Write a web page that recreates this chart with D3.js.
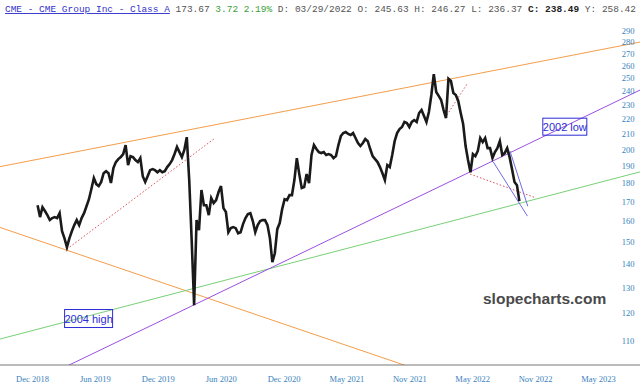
<!doctype html>
<html>

<head>
	<meta charset="utf-8">
	<title>CME - CME Group Inc - Class A</title>
	<script src="https://d3js.org/d3.v7.min.js"></script>
	<style>
		body { margin: 0; background: #fff; }
		svg { display: block; }
	</style>
</head>

<body>
	<div id="chart"></div>
	<script>
		// weekly closes, first week is 2018-12-28
		const firstWeek = '2018-12-28';
		const closes = [
			168.0, 161.9, 167.0, 165.0, 162.9, 160.4, 161.4, 161.9, 161.4, 163.9,
			154.9, 151.5, 147.4, 151.5, 154.9, 157.9, 160.4, 157.9, 161.4, 163.9,
			167.5, 171.2, 176.8, 182.9, 179.5, 178.4, 180.7, 185.7, 186.9, 185.7,
			180.1, 188.7, 192.3, 194.1, 195.3, 197.2, 202.8, 190.5, 195.9, 195.3,
			193.5, 192.3, 194.7, 184.0, 180.7, 184.0, 187.5, 188.1, 187.5, 186.3,
			187.5, 186.3, 186.9, 189.3, 191.1, 193.5, 197.2, 201.6, 198.4, 195.3,
			199.7, 207.9, 181.8, 150.7, 122.9, 160.4, 155.4, 176.2, 168.0, 168.0,
			162.9, 171.8, 169.1, 170.7, 175.1, 178.4, 166.5, 164.5, 154.4, 156.4,
			156.9, 156.4, 153.9, 154.4, 158.4, 161.4, 163.4, 163.9, 159.9, 154.4,
			157.9, 159.9, 160.4, 160.4, 157.9, 151.5, 140.6, 144.6, 155.9, 158.9,
			166.0, 171.2, 170.7, 173.4, 173.4, 181.8, 194.7, 185.2, 177.3, 177.8,
			185.2, 180.1, 196.6, 202.8, 200.3, 198.4, 197.8, 198.4, 196.6, 197.2,
			196.6, 194.7, 195.9, 202.8, 208.6, 210.6, 211.3, 210.0, 209.3, 210.6,
			207.3, 204.1, 202.2, 204.1, 206.7, 205.3, 200.3, 195.9, 194.1, 192.3,
			189.3, 185.7, 181.8, 190.5, 189.3, 196.6, 205.3, 210.6, 213.2, 214.6,
			218.0, 217.3, 214.6, 218.0, 219.3, 218.0, 224.2, 226.3, 222.1, 218.0,
			224.9, 237.2, 253.2, 239.4, 236.5, 233.5, 226.3, 220.7, 249.5, 247.8,
			238.6, 237.2, 232.8, 224.2, 216.6, 202.2, 193.5, 186.3, 197.2, 195.9,
			199.1, 207.3, 204.7, 207.3, 200.9, 200.9, 194.7, 198.4, 200.9, 205.3,
			196.6, 197.8, 200.9, 195.3, 188.1, 180.7, 178.9, 170.2
		];

		const xTickDates = ['2018-12-12', '2019-06-10', '2019-12-07', '2020-06-04', '2020-12-01',
			'2021-05-30', '2021-11-26', '2022-05-25', '2022-11-21', '2023-05-20'];
		const yTicks = [110, 120, 130, 140, 150, 160, 170, 180, 190, 200, 210, 220, 230, 240, 250, 260, 270, 280, 290];

		// trend lines, two anchors [date, price], drawn across the whole chart
		const orangeTop = [['2018-12-12', 193.3], ['2023-05-20', 272.8]];
		const orangeBottom = [['2018-12-12', 151.5], ['2021-05-30', 108.4]];
		const greenLine = [['2018-12-12', 113.5], ['2023-05-20', 180.2]];
		const purpleLine = [['2019-12-07', 116.5], ['2023-05-20', 226.1]];

		// short segments [date, price] -> [date, price]
		const redDotted = [
			[['2019-03-22', 146.5], ['2020-05-19', 207.3]],
			[['2022-03-08', 220.7], ['2022-05-10', 245.4]],
			[['2022-05-19', 185.2], ['2022-11-18', 172.3]]
		];
		const blueLines = [
			[['2022-07-24', 192.5], ['2022-10-30', 162.4]],
			[['2022-09-10', 199.1], ['2022-10-31', 167.5]]
		];

		const notes = [
			{ text: '2002 low', date: '2023-02-14', price: 214.8, w: 44, h: 17 },
			{ text: '2004 high', date: '2019-05-23', price: 117.9, w: 48, h: 18 }
		];

		const width = 640;
		const height = 392;
		const axisY = 365;
		const parse = d3.timeParse('%Y-%m-%d');

		const x = d3.scaleTime()
			.domain([parse('2018-12-12'), parse('2023-05-20')])
			.range([32, 598]);

		const y = d3.scaleLog()
			.domain([110, 290])
			.range([340.7, 30.7]);

		const start = parse(firstWeek);
		const prices = closes.map((c, i) => ({ date: d3.timeDay.offset(start, i * 7), value: c }));

		const svg = d3.select('#chart').append('svg')
			.attr('width', width)
			.attr('height', height);

		svg.append('defs').append('clipPath')
			.attr('id', 'plot')
			.append('rect')
			.attr('x', 0).attr('y', 20)
			.attr('width', width).attr('height', axisY - 20);

		const plot = svg.append('g').attr('clip-path', 'url(#plot)');

		// long lines: extend the anchors to both edges
		function extended(anchors, color) {
			const x1 = x(parse(anchors[0][0])), y1 = y(anchors[0][1]);
			const x2 = x(parse(anchors[1][0])), y2 = y(anchors[1][1]);
			const k = (y2 - y1) / (x2 - x1);
			plot.append('line')
				.attr('x1', 0).attr('y1', y1 - k * x1)
				.attr('x2', width).attr('y2', y1 + k * (width - x1))
				.attr('stroke', color)
				.attr('stroke-width', 1);
		}
		extended(orangeTop, '#f49d4a');
		extended(orangeBottom, '#f49d4a');
		extended(greenLine, '#78d078');
		extended(purpleLine, '#9c4fe0');

		function segment(s, color, dash) {
			plot.append('line')
				.attr('x1', x(parse(s[0][0]))).attr('y1', y(s[0][1]))
				.attr('x2', x(parse(s[1][0]))).attr('y2', y(s[1][1]))
				.attr('stroke', color)
				.attr('stroke-width', 1)
				.attr('stroke-dasharray', dash);
		}
		redDotted.forEach(s => segment(s, '#e0505a', '1.5,2'));
		blueLines.forEach(s => segment(s, '#6c6ce6', null));

		// price line
		const line = d3.line()
			.x(d => x(d.date))
			.y(d => y(d.value));

		plot.append('path')
			.datum(prices)
			.attr('fill', 'none')
			.attr('stroke', '#1a1a1a')
			.attr('stroke-width', 2.6)
			.attr('stroke-linejoin', 'miter')
			.attr('d', line);

		// annotations
		notes.forEach(n => {
			const cx = x(parse(n.date)), cy = y(n.price);
			svg.append('rect')
				.attr('x', cx - n.w / 2).attr('y', cy - n.h / 2)
				.attr('width', n.w).attr('height', n.h)
				.attr('fill', 'none')
				.attr('stroke', '#2b2bd6');
			svg.append('text')
				.attr('x', cx).attr('y', cy + 4)
				.attr('text-anchor', 'middle')
				.attr('font-family', 'Liberation Sans, Arial, sans-serif')
				.attr('font-size', '11px')
				.attr('fill', '#2b2bd6')
				.text(n.text);
		});

		// watermark
		svg.append('text')
			.attr('x', 483).attr('y', 304)
			.attr('font-family', 'Liberation Sans, Arial, sans-serif')
			.attr('font-weight', 'bold')
			.attr('font-size', '15.5px')
			.attr('fill', '#4a4a4a')
			.text('slopecharts.com');

		// axes
		svg.append('line')
			.attr('x1', 0).attr('x2', width)
			.attr('y1', axisY).attr('y2', axisY)
			.attr('stroke', '#777');

		const xAxis = svg.append('g')
			.attr('transform', 'translate(0,' + axisY + ')')
			.call(d3.axisBottom(x)
				.tickValues(xTickDates.map(parse))
				.tickFormat(d3.timeFormat('%b %Y'))
				.tickSize(0)
				.tickPadding(11));
		xAxis.select('.domain').remove();
		xAxis.selectAll('text')
			.attr('font-family', 'Liberation Serif, Times New Roman, serif')
			.attr('font-size', '8.5px')
			.attr('fill', '#3a82bd');

		const yAxis = svg.append('g')
			.attr('transform', 'translate(628,0)')
			.call(d3.axisRight(y)
				.tickValues(yTicks)
				.tickFormat(d3.format('d'))
				.tickSize(0)
				.tickPadding(0));
		yAxis.select('.domain').remove();
		yAxis.selectAll('text')
			.attr('text-anchor', 'middle')
			.attr('font-family', 'Liberation Serif, Times New Roman, serif')
			.attr('font-size', '8.5px')
			.attr('fill', '#3a82bd');

		// header
		const head = svg.append('text')
			.attr('x', 5).attr('y', 12)
			.attr('font-family', 'Liberation Mono, Courier New, monospace')
			.attr('font-size', '9.5px')
			.attr('fill', '#555')
			.attr('textLength', 631)
			.attr('lengthAdjust', 'spacingAndGlyphs')
			.attr('xml:space', 'preserve');
		head.append('tspan').attr('fill', '#3333cc').attr('text-decoration', 'underline')
			.text('CME - CME Group Inc - Class A');
		head.append('tspan').text(' 173.67 ');
		head.append('tspan').attr('fill', '#3aa13a').text('3.72 2.19%');
		head.append('tspan').text(' D: 03/29/2022 O: 245.63 H: 246.27 L: 236.37 ');
		head.append('tspan').attr('fill', '#222').attr('font-weight', 'bold').text('C: 238.49');
		head.append('tspan').text(' Y: 258.42');
	</script>
</body>

</html>
